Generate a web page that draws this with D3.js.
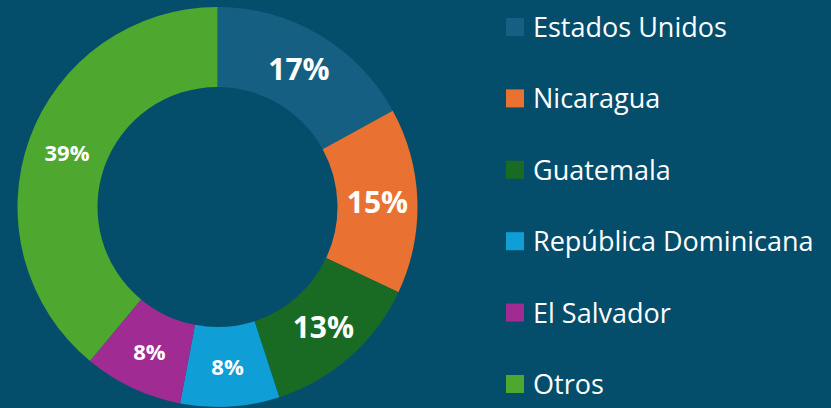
<!DOCTYPE html>
<html>
<head>
<meta charset="utf-8">
<script src="https://cdn.jsdelivr.net/npm/d3@7"></script>
<style>
	html, body { margin: 0; padding: 0; background: #044e6b; }
	svg { display: block; }
	text { font-family: "Open Sans", "Noto Sans", sans-serif; fill: #fff; }
</style>
</head>
<body>
<div class="chart-wrapper"></div>
<script>
const countries = ['Estados Unidos', 'Nicaragua', 'Guatemala', 'República Dominicana', 'El Salvador', 'Otros'];
const shares = [17, 15, 13, 8, 8, 39];
const colours = ['#156082', '#e97132', '#196b24', '#0f9ed5', '#a02b93', '#4ea72e'];

const width = 831;
const height = 408;

const data = countries.map((c, i) => ({ name: c, value: shares[i] }))

const svg = d3.select('.chart-wrapper')
.append('svg')
.attr('width', width)
.attr('height', height)

const colour = d3.scaleOrdinal()
.domain(countries)
.range(colours)

const outer = 200;
const inner = 120;

const pie = d3.pie()
.value(d => d.value)
.sort(null)

const arc = d3.arc()
.innerRadius(inner)
.outerRadius(outer)

const donut = svg.append('g')
.attr('transform', `translate(217.5,207)`)

const slices = pie(data);

donut.selectAll('path')
.data(slices)
.enter()
.append('path')
.attr('d', arc)
.attr('fill', d => colour(d.data.name))

donut.selectAll('text')
.data(slices)
.enter()
.append('text')
.attr('transform', d => `translate(${arc.centroid(d)})`)
.attr('text-anchor', 'middle')
.attr('dy', '0.36em')
.style('font-weight', 700)
.style('font-size', (d, i) => i < 3 ? '30px' : '22px')
.text(d => d.data.value + '%')

// legend
const legend = svg.append('g')
.attr('transform', 'translate(506,18)')

const row = d3.scaleBand()
.domain(countries)
.range([0, 6 * 71.4])

const items = legend.selectAll('g')
.data(countries)
.enter()
.append('g')
.attr('transform', d => `translate(0,${row(d)})`)

items.append('rect')
.attr('width', 18)
.attr('height', 18)
.attr('fill', d => colour(d))

items.append('text')
.attr('x', 27)
.attr('y', 19)
.style('font-size', '27px')
.text(d => d)
</script>
</body>
</html>
